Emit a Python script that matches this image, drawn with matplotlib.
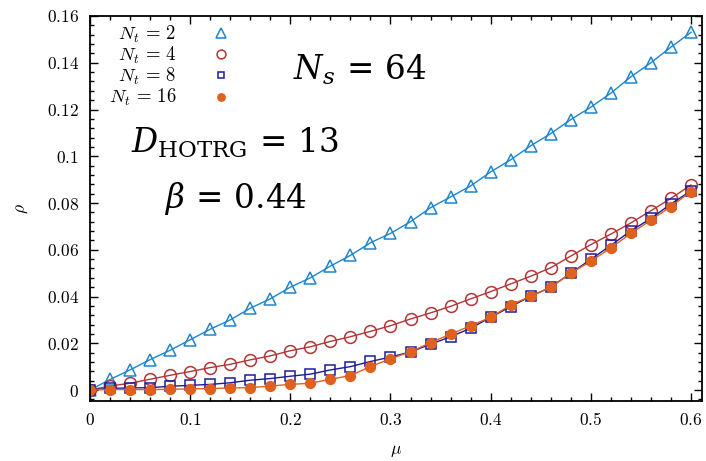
import numpy as np
import matplotlib
matplotlib.use("Agg")
import matplotlib.pyplot as plt
from matplotlib.ticker import MultipleLocator, FuncFormatter
from matplotlib.lines import Line2D

plt.rcParams["mathtext.fontset"] = "cm"
plt.rcParams["font.family"] = "DejaVu Serif"

# chemical potential
mu = np.round(np.arange(0, 0.61, 0.02), 2)

# density for each temporal size
rho_nt2 = [0, 0.0045, 0.0086, 0.013, 0.017, 0.0215, 0.026, 0.030, 0.035, 0.039,
           0.044, 0.048, 0.053, 0.0576, 0.063, 0.067, 0.072, 0.078, 0.0826, 0.0873,
           0.0933, 0.0985, 0.1045, 0.1097, 0.1157, 0.121, 0.127, 0.134, 0.140, 0.1467,
           0.153]
rho_nt4 = [0, 0.0017, 0.0029, 0.0046, 0.0063, 0.0079, 0.0096, 0.011, 0.0129, 0.0146,
           0.0168, 0.0185, 0.0208, 0.0228, 0.0251, 0.0275, 0.0304, 0.033, 0.0358, 0.039,
           0.0421, 0.0454, 0.0487, 0.0523, 0.0573, 0.0622, 0.0667, 0.0715, 0.0767, 0.082,
           0.0877]
rho_nt8 = [0, 0.0007, 0.0009, 0.001, 0.0016, 0.002, 0.0024, 0.0031, 0.0042, 0.0049,
           0.0059, 0.0068, 0.0086, 0.010, 0.0122, 0.0141, 0.0163, 0.0196, 0.0228, 0.0264,
           0.0311, 0.0357, 0.0401, 0.044, 0.050, 0.0559, 0.0619, 0.0681, 0.0734, 0.0796,
           0.0852]
rho_nt16 = [0, 0.0002, 0.0002, 0.0002, 0.0003, 0.0005, 0.0006, 0.0009, 0.001, 0.0017,
            0.0024, 0.0029, 0.0046, 0.0062, 0.010, 0.0134, 0.0163, 0.0203, 0.0239, 0.0275,
            0.0311, 0.0364, 0.0401, 0.044, 0.050, 0.0551, 0.0608, 0.067, 0.0727, 0.0785,
            0.0849]

series = [
    (rho_nt2, r"$N_t\,=\,2$", "#1f85cc", "^", 9, "none"),
    (rho_nt4, r"$N_t\,=\,4$", "#b33535", "o", 8.5, "none"),
    (rho_nt8, r"$N_t\,=\,8$", "#1c1c99", "s", 6.5, "none"),
    (rho_nt16, r"$N_t\,=\,16$", "#e0601e", "o", 7, "#e0601e"),
]

fig = plt.figure(figsize=(7.06, 4.61), dpi=100)
ax = fig.add_axes([90 / 706, 60 / 461, 612 / 706, 385 / 461])

handles = []
for rho, lab, c, m, ms, fc in series:
    ax.plot(mu, rho, "-", color=c, lw=1.0, marker=m, ms=ms,
            mfc=fc, mec=c, mew=1.1)
    # legend shows only the marker, smaller
    handles.append(Line2D([], [], ls="none", marker=m, ms=ms * 0.75,
                          mfc=fc, mec=c, mew=1.1, label=lab))

ax.set_xlim(0, 0.611)
ax.set_ylim(-0.0047, 0.16)
ax.xaxis.set_major_locator(MultipleLocator(0.1))
ax.xaxis.set_minor_locator(MultipleLocator(0.02))
ax.yaxis.set_major_locator(MultipleLocator(0.02))
ax.yaxis.set_minor_locator(MultipleLocator(0.004))
fmt = FuncFormatter(lambda v, p: "$%g$" % round(v, 3))
ax.xaxis.set_major_formatter(fmt)
ax.yaxis.set_major_formatter(fmt)
ax.tick_params(which="both", direction="in", top=True, right=True, labelsize=12.5)
ax.tick_params(which="major", length=6, width=1)
ax.tick_params(which="minor", length=3, width=1)
ax.tick_params(axis="x", pad=8)
ax.tick_params(axis="y", pad=8)
for s in ax.spines.values():
    s.set_linewidth(1.3)

ax.set_xlabel(r"$\mu$", fontsize=12.5, labelpad=9)
ax.set_ylabel(r"$\rho$", fontsize=12.5, labelpad=12)

ax.legend(handles=handles, loc="upper left", frameon=False, markerfirst=False,
          fontsize=13.5, handlelength=1.0, handletextpad=1.9, labelspacing=0.0,
          borderaxespad=0.0, bbox_to_anchor=(0.018, 1.0))

ax.text(0.441, 0.836, r"$N_s\, =\, 64$", transform=ax.transAxes, ha="center",
        va="baseline", fontsize=23.5, math_fontfamily="dejavuserif")
ax.text(0.237, 0.644, r"$D_{\mathrm{HOTRG}}\, =\, 13$", transform=ax.transAxes,
        ha="center", va="baseline", fontsize=23.5, math_fontfamily="dejavuserif")
ax.text(0.237, 0.501, r"$\beta\, =\, 0.44$", transform=ax.transAxes, ha="center",
        va="baseline", fontsize=23.5, math_fontfamily="dejavuserif")

fig.savefig("out.png", dpi=100)
